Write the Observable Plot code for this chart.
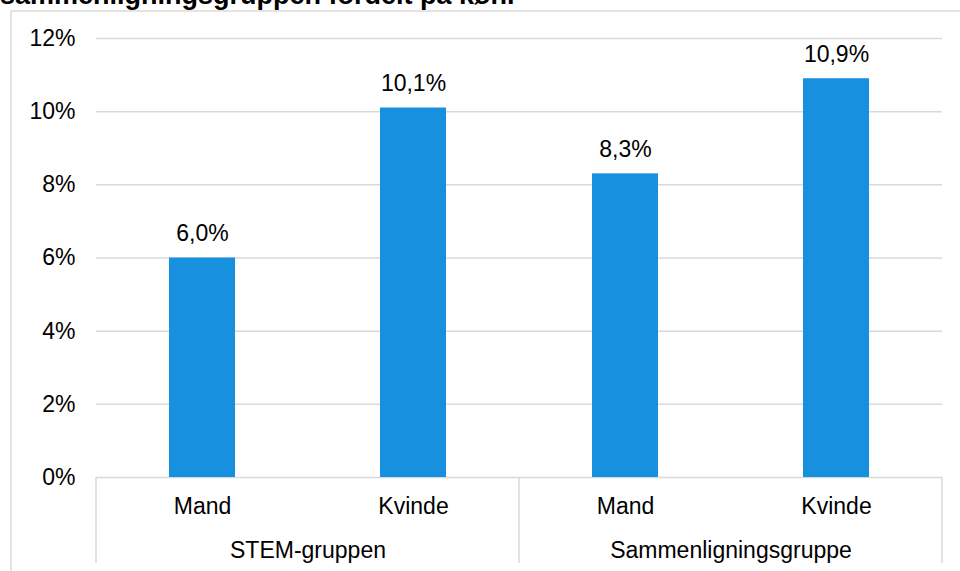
<!DOCTYPE html>
<html>
<head>
<meta charset="utf-8">
<script src="https://cdn.jsdelivr.net/npm/d3@7"></script>
<script src="https://cdn.jsdelivr.net/npm/@observablehq/plot@0.6"></script>
<style>
  body { margin: 0; background: #fff; overflow: hidden; }
  #wrap { position: relative; width: 960px; height: 571px; overflow: hidden; font-family: "Liberation Sans", Arial, sans-serif; }
  #frame { position: absolute; left: 10px; top: 10px; width: 990px; height: 620px; border: 2px solid #e3e3e3; box-sizing: border-box; }
  #title { position: absolute; left: 0; top: -18.5px; font-weight: bold; font-size: 27px; line-height: 27px; white-space: nowrap; color: #000; }
  #chart { position: absolute; left: 0; top: 0; }
</style>
</head>
<body>
<div id="wrap">
  <div id="frame"></div>
  <div id="title">sammenligningsgruppen fordelt på køn.</div>
  <div id="chart"></div>
</div>
<script>
// Andel fordelt på gruppe og køn
const groups = ["STEM-gruppen", "STEM-gruppen", "Sammenligningsgruppe", "Sammenligningsgruppe"];
const genders = ["Mand", "Kvinde", "Mand", "Kvinde"];
const shares = [6.0, 10.1, 8.3, 10.9];
const yTicks = [0, 2, 4, 6, 8, 10, 12];
const groupOrder = ["STEM-gruppen", "Sammenligningsgruppe"];
const genderOrder = ["Mand", "Kvinde"];

const rows = shares.map((v, i) => ({ group: groups[i], gender: genders[i], share: v }));
const fmt = v => v.toFixed(1).replace(".", ",") + "%";
const fs = 23;

const chart = Plot.plot({
  width: 960,
  height: 571,
  marginLeft: 96,
  marginRight: 18,
  marginTop: 38,
  marginBottom: 94,
  style: { fontFamily: "'Liberation Sans', Arial, sans-serif", fontSize: fs + "px", color: "#000", background: "transparent" },
  fx: { domain: groupOrder, padding: 0, label: null },
  x: { domain: genderOrder, paddingInner: 0.688, paddingOuter: 0.344, label: null },
  y: { domain: [0, 12], label: null },
  marks: [
    Plot.gridY(yTicks, { stroke: "#d9d9d9", strokeOpacity: 1, strokeWidth: 1.5 }),
    Plot.axisY(yTicks, { tickSize: 0, tickPadding: 21, tickFormat: d => d + "%", fontSize: fs, label: null }),
    Plot.barY(rows, { fx: "group", x: "gender", y: "share", fill: "#1890e0" }),
    Plot.text(rows, { fx: "group", x: "gender", y: "share", text: d => fmt(d.share), dy: -24, fontSize: fs, fill: "#000" }),
    Plot.axisX({ tickSize: 0, tickPadding: 20, fontSize: fs, label: null }),
    Plot.axisFx({ anchor: "bottom", tickSize: 0, tickPadding: 64, fontSize: fs, label: null })
  ]
});
document.getElementById("chart").append(chart);

// Vertical separators between the category groups, below the baseline
const fx = chart.scale("fx");
const y = chart.scale("y");
const edges = groupOrder.map(g => fx.apply(g)).concat([fx.apply(groupOrder[groupOrder.length - 1]) + fx.bandwidth]);
d3.select(chart).append("g")
  .attr("stroke", "#d9d9d9")
  .attr("stroke-width", 1.5)
  .selectAll("line")
  .data(edges)
  .join("line")
  .attr("x1", d => d).attr("x2", d => d)
  .attr("y1", y.apply(0)).attr("y2", 563);
</script>
</body>
</html>
